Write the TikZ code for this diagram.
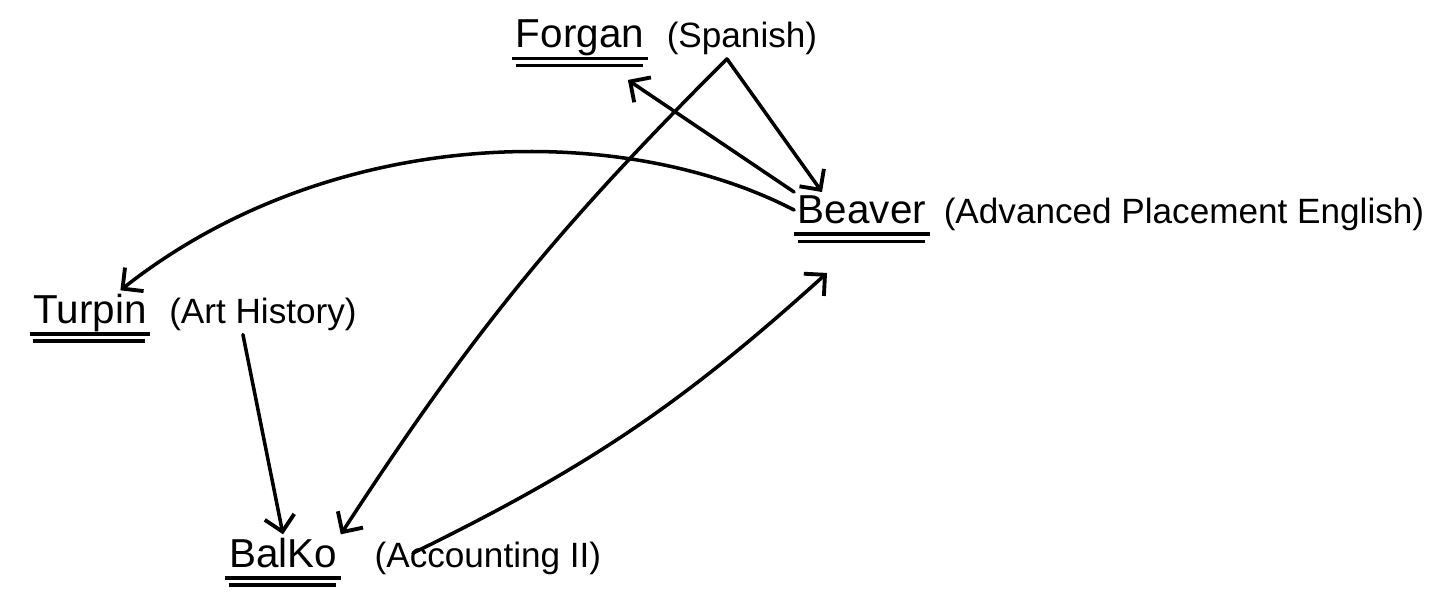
\documentclass[tikz,border=0pt]{standalone}
\usepackage{fontspec}
\setmainfont{Liberation Sans}
\usetikzlibrary{arrows.meta, positioning}

\begin{document}
\begin{tikzpicture}[
        x=0.02cm, y=-0.02cm,
        teacher/.style={font=\fontsize{23}{27}\selectfont, inner sep=2pt},
        course/.style={font=\fontsize{20}{24}\selectfont, inner sep=2pt},
        uline/.style={line width=2pt},
        link/.style={-{Straight Barb[length=0.3cm, width=0.6cm, line width=2.2pt]}, line width=2pt, line cap=round}
    ]
        \useasboundingbox (0,0) rectangle (1437,593);

        \node[teacher] (forgan) at (580,38) {Forgan};
        \node[course, base right=0.3cm of forgan] (spanish) {(Spanish)};

        \node[teacher] (beaver) at (862,210) {Beaver};
        \node[course, base right=0.2cm of beaver] (english) {(Advanced Placement English)};

        \node[teacher] (turpin) at (90,313) {Turpin};
        \node[course, base right=0.3cm of turpin] (arthist) {(Art History)};

        \node[teacher] (balko) at (283,553) {BalKo};
        \node[course, base right=0.6cm of balko] (accounting) {(Accounting II)};

        % double underline under each teacher
        \foreach \t in {forgan, beaver, turpin, balko} {
            \draw[uline] ([yshift=-6pt]\t.base west) -- ([yshift=-6pt]\t.base east);
            \draw[uline] ([yshift=-10pt,xshift=2pt]\t.base west) -- ([yshift=-10pt,xshift=-3pt]\t.base east);
        }

        \draw[link] (beaver.north west) -- ([xshift=-0.4cm,yshift=-0.4cm]forgan.south east);
        \draw[link] ([xshift=-0.3cm]spanish.south) -- ([xshift=-0.8cm]beaver.north);
        \draw[link] ([xshift=-0.3cm]spanish.south) to[bend right=6] (balko.north east);
        \draw[link] (beaver.west) .. controls (620,120) and (330,125) .. ([xshift=-0.6cm]turpin.north east);
        \draw[link] ([xshift=-0.4cm]arthist.south) -- (balko.north);
        \draw[link] ([xshift=-1.5cm,yshift=-0.3cm]accounting.north) to[bend right=8] ([xshift=-0.7cm,yshift=-0.9cm]beaver.south);
    \end{tikzpicture}
\end{document}
